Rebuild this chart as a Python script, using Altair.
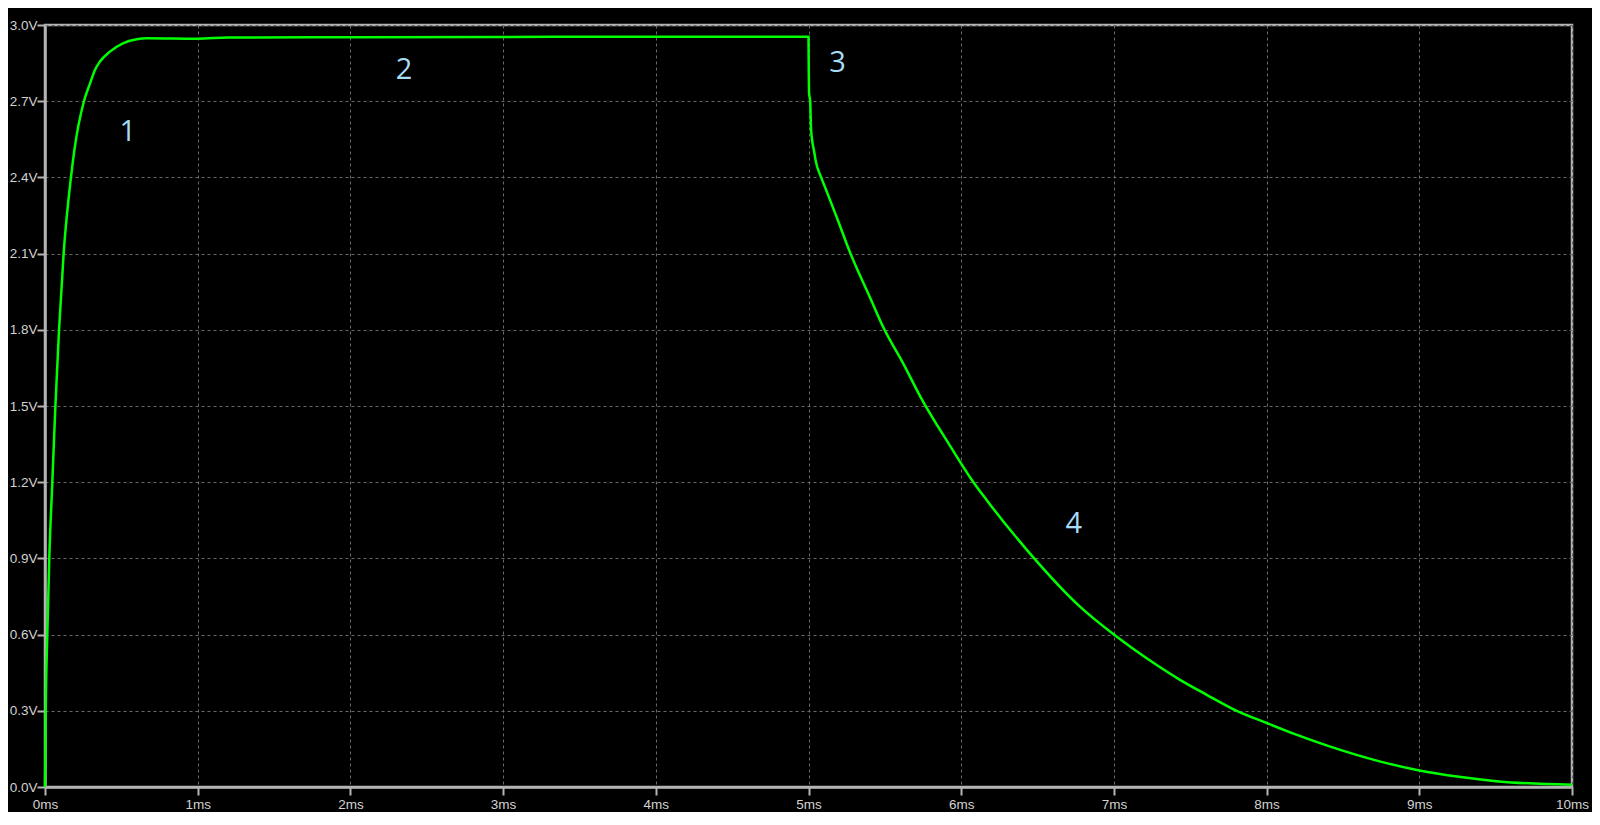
import altair as alt
import pandas as pd

# Waveform (time in ms, voltage in V)
t_ms = [0.0, 0.002, 0.005, 0.015, 0.028, 0.048, 0.068, 0.092, 0.122, 0.170, 0.192,
        0.255, 0.295, 0.327, 0.36, 0.425, 0.51, 0.60, 0.667, 1.0, 1.2, 2.0, 3.0, 4.0, 5.0,
        5.001, 5.004, 5.011, 5.017, 5.039, 5.046, 5.083, 5.111, 5.183, 5.275, 5.40, 5.498,
        5.619, 5.744, 5.923, 6.08, 6.165, 6.448, 6.776, 7.0, 7.135, 7.278, 7.43, 7.605,
        7.79, 8.0, 8.194, 8.412, 8.74, 9.0, 9.26, 9.52, 10.0]
volts = [0.0, 0.1, 0.3, 0.6, 0.9, 1.2, 1.5, 1.8, 2.1, 2.4, 2.506,
         2.7, 2.77, 2.823, 2.856, 2.895, 2.928, 2.944, 2.948, 2.946, 2.951, 2.952, 2.953, 2.954, 2.954,
         2.87, 2.731, 2.70, 2.587, 2.495, 2.469, 2.40, 2.357, 2.246, 2.1, 1.931, 1.8,
         1.669, 1.524, 1.347, 1.2, 1.131, 0.921, 0.711, 0.6, 0.54, 0.481, 0.423, 0.364,
         0.304, 0.252, 0.206, 0.16, 0.101, 0.065, 0.040, 0.022, 0.009]

# Region annotations
note_text = ["1", "2", "3", "4"]
note_t = [0.543, 2.351, 5.19, 6.737]
note_v = [2.579, 2.821, 2.849, 1.036]

x_ticks = [0, 1, 2, 3, 4, 5, 6, 7, 8, 9, 10]
y_ticks = [0.0, 0.3, 0.6, 0.9, 1.2, 1.5, 1.8, 2.1, 2.4, 2.7, 3.0]

wave = pd.DataFrame({"t": t_ms, "v": volts})
notes = pd.DataFrame({"label": note_text, "t": note_t, "v": note_v})

x_scale = alt.Scale(domain=[0, 10], nice=False, zero=False)
y_scale = alt.Scale(domain=[0, 3], nice=False)

axis_common = dict(
    domainColor="#b4b4b4", domainWidth=2.5,
    tickColor="#b4b4b4", tickWidth=2, tickSize=8,
    gridColor="#6a6a6a", gridDash=[3, 3], gridWidth=1,
    labelColor="#d2d2d2", labelFont="Liberation Sans", labelFontSize=13.5,
    labelFlush=False, labelOverlap=False, title=None,
)

line = alt.Chart(wave).mark_line(color="#00ff00", strokeWidth=2.5, interpolate="monotone").encode(
    x=alt.X("t:Q", scale=x_scale,
            axis=alt.Axis(values=x_ticks, labelExpr="datum.value + 'ms'", labelPadding=2, **axis_common)),
    y=alt.Y("v:Q", scale=y_scale,
            axis=alt.Axis(values=y_ticks, labelExpr="format(datum.value, '.1f') + 'V'", labelPadding=0, **axis_common)),
)

text = alt.Chart(notes).mark_text(
    color="#a6dcf5", font="Open Sans", fontSize=29, align="center", baseline="middle"
).encode(
    x=alt.X("t:Q", scale=x_scale),
    y=alt.Y("v:Q", scale=y_scale),
    text="label:N",
)

chart = alt.layer(line, text).properties(
    width=1527, height=762,
    background="#000000",
    padding={"left": 37, "top": 17, "right": 20, "bottom": 25},
    autosize=alt.AutoSizeParams(type="none"),
).configure_view(
    stroke="#b4b4b4", strokeWidth=2.5, fill="#000000"
)

chart.save("out.html", embed_options={"renderer": "svg", "actions": False})
